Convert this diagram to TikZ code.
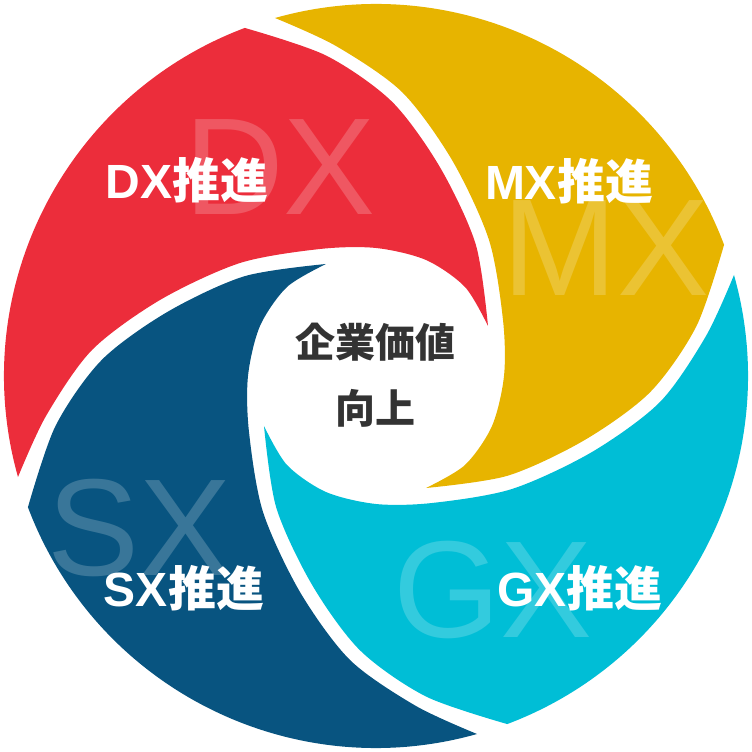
\documentclass[tikz,border=0pt]{standalone}
\usepackage{fontspec}
\setmainfont{Liberation Sans}
\newfontfamily\jpfont{Noto Sans CJK JP}
\usepackage{tikz}
\usepackage{xcolor}
\definecolor{dxred}{HTML}{EC2D3B}
\definecolor{mxyellow}{HTML}{E7B400}
\definecolor{gxcyan}{HTML}{00BED6}
\definecolor{sxblue}{HTML}{085480}
\definecolor{valgray}{HTML}{333333}

\begin{document}
\begin{tikzpicture}[x=1pt,y=1pt,
		bigtag/.style={anchor=base,inner sep=0pt,text=white,text opacity=0.2,font=\fontsize{138}{138}\selectfont},
		tag/.style={anchor=base,inner sep=0pt,text=white,font=\bfseries\fontsize{48}{48}\selectfont},
		valtext/.style={align=center,inner sep=0pt,text=valgray,font=\bfseries\jpfont\fontsize{40}{66}\selectfont}]
		\useasboundingbox (-376,-376) rectangle (376,376);
		% one swirl, turned four times
		\foreach \rot/\col in {0/dxred,-90/mxyellow,-180/gxcyan,90/sxblue}
		\fill[\col,rotate=\rot] (195.6:372) arc[start angle=195.6,end angle=110.6,radius=372]
		-- plot[smooth] coordinates {(-131,348) (-50,320.5) (15.8,274.5) (63.9,208.9) (99.7,131.7) (112,50)}
		-- plot[smooth] coordinates {(112,50) (89,89) (50,116) (0,128) (-56,127) (-136,113) (-216,76) (-284,26) (-330,-40) (-358,-101)}
		-- cycle;
		\foreach \nm/\px/\py in {DX/-96/161,MX/230/80,SX/-236/-199,GX/117/-261}
		\node[bigtag] (big\nm) at (\px,\py) {\nm};
		\foreach \nm/\px/\py in {DX/-189/177,MX/193/176,SX/-192/-230,GX/204/-230}
		\node[tag] (lab\nm) at (\px,\py) {\nm{\jpfont 推進}};
		\node[valtext] (value) at (0,1) {企業価値\\向上};
	\end{tikzpicture}
\end{document}
